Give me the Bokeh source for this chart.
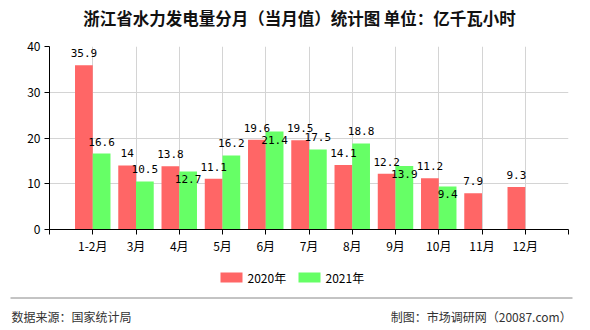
from bokeh.plotting import figure
from bokeh.layouts import column
from bokeh.models import ColumnDataSource, Range1d, FixedTicker
from bokeh.core.properties import value
from bokeh.embed import file_html
from bokeh.resources import INLINE

# ---------------- data ----------------
categories = ["1-2月", "3月", "4月", "5月", "6月", "7月", "8月", "9月", "10月", "11月", "12月"]
values_2020 = [35.9, 14.0, 13.8, 11.1, 19.6, 19.5, 14.1, 12.2, 11.2, 7.9, 9.3]
values_2021 = [16.6, 10.5, 12.7, 16.2, 21.4, 17.5, 18.8, 13.9, 9.4, None, None]
series_names = ["2020年", "2021年"]
y_ticks = [0, 10, 20, 30, 40]
title_text = "浙江省水力发电量分月（当月值）统计图 单位：亿千瓦小时"
source_text = "数据来源：国家统计局"
credit_text = "制图：市场调研网（20087.com）"

# ---------------- layout ----------------
W = 590
TOP_H = 36                  # title strip
MAIN_T, FRAME_H, MAIN_B = 10, 183, 31
MAIN_H = MAIN_T + FRAME_H + MAIN_B
BOT_H = 330 - TOP_H - MAIN_H
BOT_OFF = TOP_H + MAIN_H
FL, FR = 49, 568
X0, X1 = 0, len(categories) + 1
Y0, Y1 = 0, 40
pxu_y = FRAME_H / (Y1 - Y0)

RED = "#FF6666"
GREEN = "#66FF66"
CJK = "Noto Sans CJK SC"
MONO = "DejaVu Sans Mono"


def strip(height):
    f = figure(width=W, height=height, output_backend="svg", toolbar_location=None,
               x_range=Range1d(0, W), y_range=Range1d(height, 0),
               x_axis_location=None, y_axis_location=None, min_border=0,
               frame_align=False)
    f.outline_line_color = None
    f.xgrid.visible = False
    f.ygrid.visible = False
    f.background_fill_color = "white"
    f.border_fill_color = "white"
    return f

# ---------------- title strip ----------------
top = strip(TOP_H)
top.text(x=[299], y=[17.5], text=[title_text], text_align="center", text_baseline="middle",
         text_font=value(CJK), text_font_size="16.5px", text_font_style="bold",
         text_color="#111111")

# ---------------- main chart ----------------
p = figure(width=W, height=MAIN_H, output_backend="svg", toolbar_location=None,
           x_range=Range1d(X0, X1), y_range=Range1d(Y0, Y1),
           min_border_left=FL, min_border_right=W - FR,
           min_border_top=MAIN_T, min_border_bottom=MAIN_B, frame_align=False)
p.outline_line_color = None
p.background_fill_color = "white"
p.border_fill_color = "white"

xs = list(range(1, len(categories) + 1))
bw = 0.41
r_x = [x - bw / 2 for x in xs]
g_x = [x + bw / 2 for x in xs]

src_r = ColumnDataSource(dict(x=r_x, top=values_2020))
g_idx = [i for i, v in enumerate(values_2021) if v is not None]
src_g = ColumnDataSource(dict(x=[g_x[i] for i in g_idx], top=[values_2021[i] for i in g_idx]))

p.vbar(x="x", top="top", bottom=0, width=bw, source=src_r, fill_color=RED, line_color=None)
p.vbar(x="x", top="top", bottom=0, width=bw, source=src_g, fill_color=GREEN, line_color=None)


def fmt(v):
    return f"{v:g}"


above = 12 / pxu_y
inside = 8 / pxu_y
lab_x, lab_y, lab_t = [], [], []
for i, v in enumerate(values_2020):
    lab_x.append(r_x[i]); lab_y.append(v + above); lab_t.append(fmt(v))
for i in g_idx:
    g = values_2021[i]
    r = values_2020[i]
    yy = g - inside if abs(g - r) * pxu_y < 9 else g + above
    lab_x.append(g_x[i]); lab_y.append(yy); lab_t.append(fmt(g))

p.text(x=lab_x, y=lab_y, text=lab_t, text_align="center", text_baseline="middle",
       text_font=value(MONO), text_font_size="11px", text_color="#000000")

p.xaxis.ticker = FixedTicker(ticks=list(range(X0, X1 + 1)))
p.xaxis.major_label_overrides = {i: ("" if i < 1 or i > len(categories) else categories[i - 1])
                                 for i in range(X0, X1 + 1)}
p.yaxis.ticker = FixedTicker(ticks=y_ticks)
for ax in (p.xaxis[0], p.yaxis[0]):
    ax.axis_line_color = "#000000"
    ax.axis_line_width = 1
    ax.major_tick_in = 0
    ax.major_tick_out = 5
    ax.major_tick_line_color = "#000000"
    ax.minor_tick_line_color = None
    ax.major_label_text_font = CJK
    ax.major_label_text_font_size = "12px"
    ax.major_label_text_color = "#000000"
p.xaxis.major_label_standoff = 2
p.yaxis.major_label_standoff = 4

p.xgrid.ticker = FixedTicker(ticks=list(range(X0, X1 + 1)))
p.ygrid.ticker = FixedTicker(ticks=y_ticks)
for gr in (p.xgrid[0], p.ygrid[0]):
    gr.grid_line_color = "#d4d4d4"
    gr.grid_line_width = 1

# ---------------- legend + footer strip ----------------
bot = strip(BOT_H)
leg_y = 277 - BOT_OFF
sw_x = [231, 309]           # swatch centres (canvas px)
lab_x0 = [247, 325]         # legend label starts
bot.rect(x=sw_x, y=[leg_y, leg_y], width=22, height=10,
         fill_color=[RED, GREEN], line_color=None)
bot.text(x=lab_x0, y=[leg_y, leg_y], text=series_names, text_align="left",
         text_baseline="middle", text_font=value(CJK), text_font_size="12px",
         text_color="#000000")

sep_y = 297.5 - BOT_OFF
foot_y = 316 - BOT_OFF
bot.segment(x0=[10], y0=[sep_y], x1=[572], y1=[sep_y], line_color="#888888", line_width=1)
bot.text(x=[11], y=[foot_y], text=[source_text], text_align="left", text_baseline="middle",
         text_font=value(CJK), text_font_size="12px", text_color="#333333")
bot.text(x=[571], y=[foot_y], text=[credit_text], text_align="right", text_baseline="middle",
         text_font=value(CJK), text_font_size="12px", text_color="#333333")

layout = column(top, p, bot, spacing=0)
open("out.html", "w").write(file_html(layout, INLINE))
